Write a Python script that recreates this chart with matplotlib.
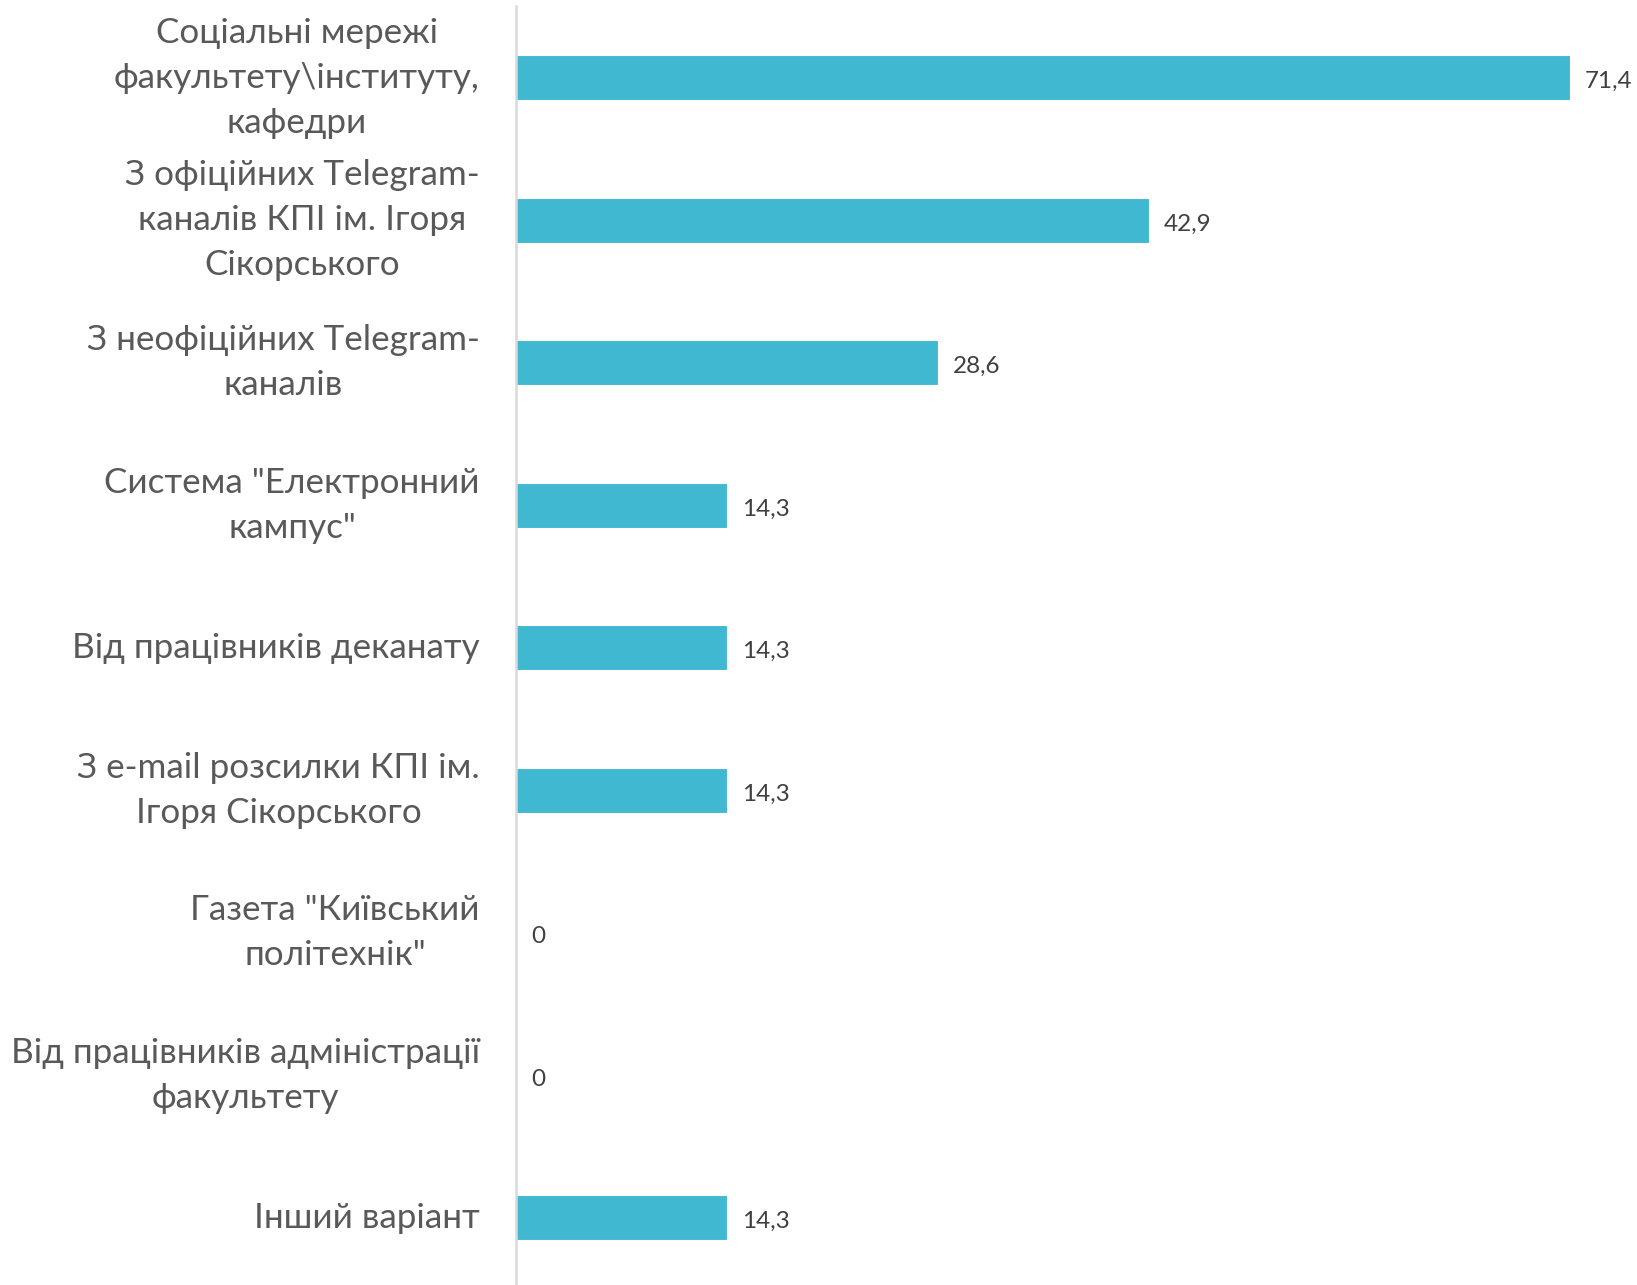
import matplotlib
matplotlib.use("Agg")
import matplotlib.pyplot as plt

categories = [
    "Соціальні мережі\nфакультету\\інституту,\nкафедри",
    "З офіційних Telegram-\nканалів КПІ ім. Ігоря\nСікорського",
    "З неофіційних Telegram-\nканалів",
    "Система \"Електронний\nкампус\"",
    "Від працівників деканату",
    "З e-mail розсилки КПІ ім.\nІгоря Сікорського",
    "Газета \"Київський\nполітехнік\"",
    "Від працівників адміністрації\nфакультету",
    "Інший варіант",
]
values = [71.4, 42.9, 28.6, 14.3, 14.3, 14.3, 0, 0, 14.3]
value_labels = ["71,4", "42,9", "28,6", "14,3", "14,3", "14,3", "0", "0", "14,3"]

plt.rcParams['font.family'] = ['Lato', 'DejaVu Sans']

fig = plt.figure(figsize=(16.37, 12.85), dpi=100)
ax = fig.add_axes([516/1637, 0, 1 - 516/1637, 1 - 6/1285])

bar_color = "#40B8D2"
text_color = "#595959"
y = list(range(len(categories)))
ax.barh(y, values, height=0.316, color=bar_color, edgecolor="white", linewidth=0.8)
ax.set_ylim(8.473, -0.502)
ax.set_xlim(0, 75.95)

for yi, v, lab in zip(y, values, value_labels):
    ax.annotate(lab, xy=(v, yi), xytext=(15, -4), textcoords="offset pixels",
                ha="left", va="center", fontsize=17.5, color="#404040")

ax.set_yticks(y)
ax.set_yticklabels(categories, fontsize=25.2, color=text_color)
for t in ax.get_yticklabels():
    t.set_multialignment("center")
    t.set_linespacing(1.5)
    t.set_verticalalignment("center")
ax.tick_params(axis="y", length=0, pad=26)
ax.set_xticks([])
for s in ["top", "right", "bottom"]:
    ax.spines[s].set_visible(False)
ax.spines["left"].set_color("#D9D9D9")
ax.spines["left"].set_linewidth(1.8)

fig.savefig("out.png", dpi=100)
